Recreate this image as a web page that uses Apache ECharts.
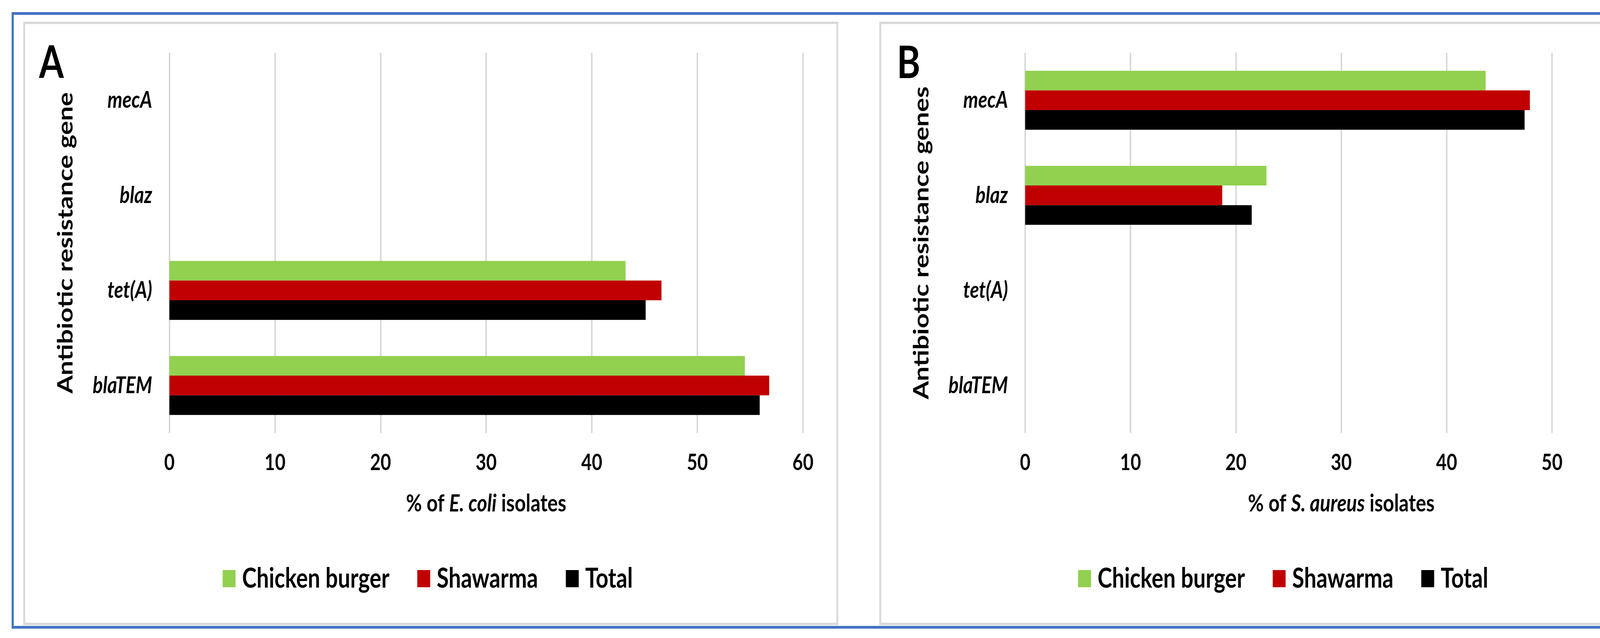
<!DOCTYPE html>
<html><head><meta charset="utf-8">
<script src="https://cdn.jsdelivr.net/npm/echarts@6/dist/echarts.min.js"></script>
<style>
html,body{margin:0;padding:0;overflow:hidden;background:#fff;width:4384px;height:1634px}
#wrap{position:relative;width:4384px;height:1634px;overflow:hidden;}
#c{position:absolute;left:0;top:0;width:5480px;height:1634px;transform:scaleX(0.8);transform-origin:0 0;}
</style>
</head><body><div id="wrap"><div id="c"></div></div>
<script>
// ---- data ----
const genes = ['blaTEM', 'tet(A)', 'blaz', 'mecA'];           // bottom -> top
const seriesNames = ['Chicken burger', 'Shawarma', 'Total'];
const xTicks = [0, 10, 20, 30, 40, 50, 60];
const ecoliChicken  = [54.5, 43.2, 0, 0];
const ecoliShawarma = [56.8, 46.6, 0, 0];
const ecoliTotal    = [55.9, 45.1, 0, 0];
const saureusChicken  = [0, 0, 22.9, 43.7];
const saureusShawarma = [0, 0, 18.7, 47.9];
const saureusTotal    = [0, 0, 21.5, 47.4];
const colors = ['#92D050', '#C00000', '#000000'];

// ---- layout helpers (reference px -> unscaled px) ----
const K = 0.8;
const u = v => v / K;
const FONT = 'Lato, "Open Sans", sans-serif';

const chart = echarts.init(document.getElementById('c'));

function xAxisCfg(grid, nameRich) {
  return {
    type: 'value', gridIndex: grid, min: xTicks[0], max: xTicks[xTicks.length - 1], interval: xTicks[1] - xTicks[0],
    axisLine: {show: false}, axisTick: {show: false},
    splitLine: {show: true, lineStyle: {color: '#D9D9D9', width: 5}},
    axisLabel: {margin: 47, fontSize: 58, fontWeight: 'bold', color: '#000', fontFamily: FONT},
    name: nameRich, nameLocation: 'middle', nameGap: 150,
    nameTextStyle: {fontSize: 62, fontWeight: 'bold', color: '#000', fontFamily: FONT,
      rich: {i: {fontSize: 62, fontWeight: 'bold', fontStyle: 'italic', color: '#000', fontFamily: FONT}}}
  };
}
function yAxisCfg(grid, name) {
  return {
    type: 'category', gridIndex: grid, data: genes,
    axisLine: {show: false}, axisTick: {show: false}, splitLine: {show: false},
    axisLabel: {margin: 55, fontSize: 60, fontWeight: 'bold', fontStyle: 'italic', color: '#000', fontFamily: FONT},
    name: name, nameLocation: 'middle', nameGap: 298,
    nameTextStyle: {fontSize: 67, fontWeight: 'bold', color: '#000', fontFamily: FONT}
  };
}
function barSeries(name, data, grid, color) {
  return {
    type: 'bar', name: name, data: data, xAxisIndex: grid, yAxisIndex: grid,
    barGap: '0%', barCategoryGap: '38%', itemStyle: {color: color}, silent: true
  };
}
function legendCfg(left) {
  return {
    data: seriesNames, left: left, top: 1447, orient: 'horizontal', padding: 0,
    icon: 'rect', itemWidth: u(33), itemHeight: 44, itemGap: 89,
    textStyle: {fontSize: 70, fontWeight: 'bold', color: '#000', fontFamily: FONT, padding: [0, 0, 0, 16]},
    selectedMode: false
  };
}

const option = {
  animation: false,
  backgroundColor: '#fff',
  title: [
    {text: 'A', left: u(100), top: 106, padding: 0,
     textStyle: {fontSize: 114, fontWeight: 'bold', color: '#000', fontFamily: FONT}},
    {text: 'B', left: u(2296), top: 106, padding: 0,
     textStyle: {fontSize: 114, fontWeight: 'bold', color: '#000', fontFamily: FONT}}
  ],
  grid: [
    {left: u(433.6), width: u(2055.6) - u(433.6), top: 135, height: 974},
    {left: u(2624.4), width: u(4242.9) - u(2624.4), top: 135, height: 974}
  ],
  xAxis: [xAxisCfg(0, '% of {i|E. coli} isolates'), xAxisCfg(1, '% of {i|S. aureus} isolates')],
  yAxis: [yAxisCfg(0, 'Antibiotic resistance gene'), yAxisCfg(1, 'Antibiotic resistance genes')],
  legend: [legendCfg(u(570)), legendCfg(u(2760))],
  series: [
    barSeries(seriesNames[0], ecoliChicken, 0, colors[0]),
    barSeries(seriesNames[1], ecoliShawarma, 0, colors[1]),
    barSeries(seriesNames[2], ecoliTotal, 0, colors[2]),
    barSeries(seriesNames[0], saureusChicken, 1, colors[0]),
    barSeries(seriesNames[1], saureusShawarma, 1, colors[1]),
    barSeries(seriesNames[2], saureusTotal, 1, colors[2])
  ],
  graphic: [
    {type: 'rect', silent: true, z: 10,
     shape: {x: u(62), y: 58.5, width: u(2143.5) - u(62), height: 1539.5},
     style: {fill: 'none', stroke: '#D9D9D9', lineWidth: 6}},
    {type: 'rect', silent: true, z: 10,
     shape: {x: u(2253.5), y: 58.5, width: u(4333) - u(2253.5), height: 1539.5},
     style: {fill: 'none', stroke: '#D9D9D9', lineWidth: 6}},
    {type: 'rect', silent: true, z: 11,
     shape: {x: u(32.5), y: 34.5, width: u(4339) - u(32.5), height: 1572},
     style: {fill: 'none', stroke: '#4472C4', lineWidth: 7}}
  ]
};
chart.setOption(option);
</script></body></html>
